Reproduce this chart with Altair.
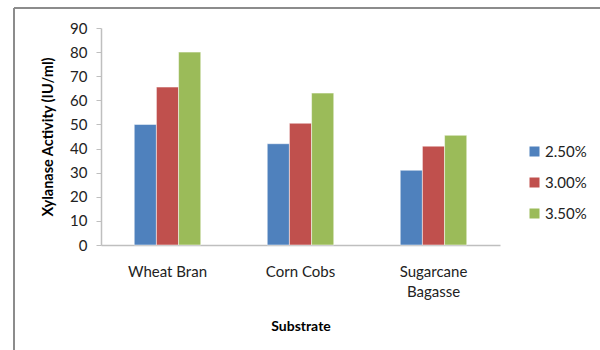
import altair as alt
import pandas as pd

substrates = ["Wheat Bran", "Corn Cobs", "Sugarcane Bagasse"]
concentrations = ["2.50%", "3.00%", "3.50%"]
activity = {
    "2.50%": [50, 42, 31],
    "3.00%": [65.5, 50.5, 41],
    "3.50%": [80, 63, 45.5],
}
colors = ["#4F81BD", "#C0504D", "#9BBB59"]
y_ticks = list(range(0, 91, 10))

rows = []
for conc in concentrations:
    for sub, val in zip(substrates, activity[conc]):
        rows.append({"Substrate": sub, "Concentration": conc, "Activity": val})
df = pd.DataFrame(rows)

FONT = "Lato"

bars = alt.Chart(df).mark_bar(stroke="white", strokeWidth=0.5).encode(
    x=alt.X(
        "Substrate:N",
        sort=substrates,
        scale=alt.Scale(paddingInner=0.5, paddingOuter=0.25),
        axis=alt.Axis(
            title="Substrate",
            titleFont=FONT, titleFontSize=14, titleFontWeight="bold", titleColor="#000",
            titlePadding=20,
            labelFont=FONT, labelFontSize=15, labelColor="#222", labelAngle=0,
            labelPadding=19, labelLineHeight=20,
            labelExpr="datum.label == 'Sugarcane Bagasse' ? ['Sugarcane', 'Bagasse'] : datum.label",
            ticks=False, domainColor="#BFBFBF", domainWidth=1.5,
        ),
    ),
    xOffset=alt.XOffset("Concentration:N", sort=concentrations),
    y=alt.Y(
        "Activity:Q",
        scale=alt.Scale(domain=[0, 90], nice=False),
        axis=alt.Axis(
            title="Xylanase Activity (IU/ml)",
            titleFont=FONT, titleFontSize=14.5, titleFontWeight="bold", titleColor="#000",
            titlePadding=14,
            values=y_ticks, grid=False,
            labelFont=FONT, labelFontSize=15, labelColor="#222", labelPadding=9,
            tickColor="#BFBFBF", tickSize=5, domainColor="#BFBFBF", domainWidth=1.5,
        ),
    ),
    color=alt.Color(
        "Concentration:N",
        sort=concentrations,
        scale=alt.Scale(domain=concentrations, range=colors),
        legend=alt.Legend(
            title=None, orient="none", legendX=426, legendY=116,
            symbolType="square", symbolSize=100, symbolStrokeWidth=0,
            labelFont=FONT, labelFontSize=15, labelColor="#222",
            rowPadding=15, labelOffset=3,
        ),
    ),
)

# outer frame lines around the chart
frame_top = alt.Chart(pd.DataFrame({"k": [0]})).mark_rule(color="#8C8C8C", strokeWidth=2).encode(
    x=alt.value(-87), x2=alt.value(520), y=alt.value(-20)
)
frame_left = alt.Chart(pd.DataFrame({"k": [0]})).mark_rule(color="#8C8C8C", strokeWidth=2).encode(
    x=alt.value(-87), y=alt.value(-20), y2=alt.value(340)
)

chart = alt.layer(bars, frame_top, frame_left).properties(
    width=399,
    height=217,
    autosize=alt.AutoSizeParams(type="none"),
    padding={"left": 101, "top": 28, "right": 100, "bottom": 105},
).configure_view(stroke=None)

chart.save("out.html", embed_options={"renderer": "svg", "actions": False})
